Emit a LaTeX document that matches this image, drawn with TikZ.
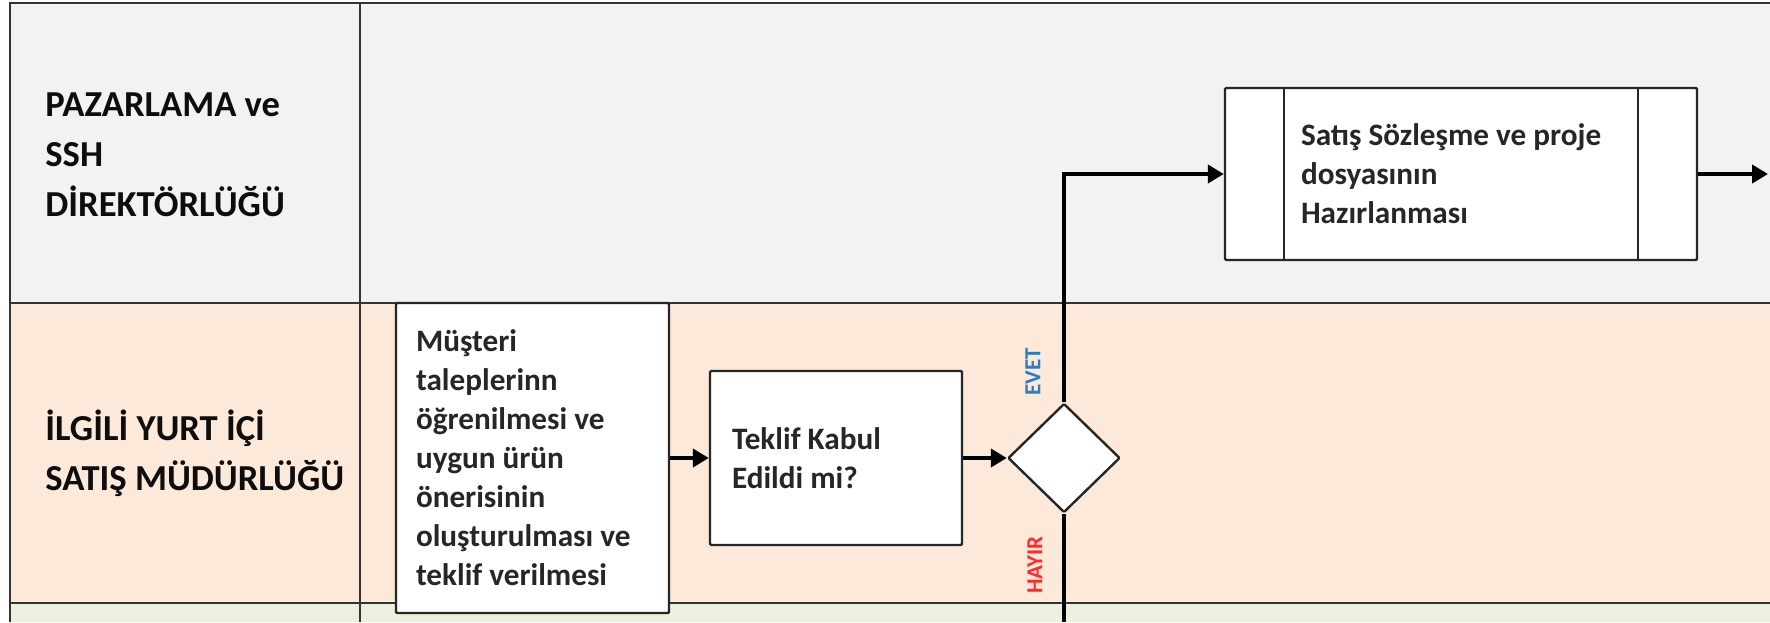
\documentclass[tikz,border=0pt]{standalone}
\usepackage{fontspec}
\setmainfont{Carlito}
\usetikzlibrary{arrows.meta}
\usetikzlibrary{shapes}
\definecolor{grayln}{HTML}{F2F2F2}
\definecolor{peachln}{HTML}{FCE9DA}
\definecolor{greenln}{HTML}{EBF1DE}
\definecolor{evetblue}{HTML}{2E7BC4}
\definecolor{hayirred}{HTML}{FF2A2A}

\begin{document}
\begin{tikzpicture}[x=0.5pt,y=-0.5pt]
\tikzstyle{lanetext}=[anchor=west,align=flush left,inner sep=0,font=\bfseries\fontsize{18.3}{25}\selectfont,text=black!95]
\tikzstyle{task}=[draw=black!85,line width=1.2pt,fill=white,rounded corners=0.6pt,align=flush left,font=\bfseries\fontsize{15.6}{19.5}\selectfont,text=black!85]
\tikzstyle{flow}=[line width=2pt,-{Triangle[length=8pt,width=9pt]}]
\tikzstyle{answer}=[rotate=90,inner sep=0,font=\bfseries\fontsize{11.5}{13}\selectfont]
\useasboundingbox (0,0) rectangle (1770,622);
\fill[grayln] (10,3) rectangle (1770,303);
\fill[peachln] (10,303) rectangle (1770,603);
\fill[greenln] (10,603) rectangle (1770,622);
\draw[black!80,line width=1pt] (1770,3) -- (10,3) -- (10,622) (360,3) -- (360,622)
  (10,303) -- (1770,303) (10,603) -- (1770,603);
\node[lanetext] (pazarlama) at (45,155) {PAZARLAMA ve\\SSH\\DİREKTÖRLÜĞÜ};
\node[lanetext] (yurtici) at (45,453) {İLGİLİ YURT İÇİ\\SATIŞ MÜDÜRLÜĞÜ};
\node[task,text width=116.5pt,inner xsep=10pt,minimum height=155pt] (offer) at (532.5,458)
  {Müşteri\\taleplerinn\\öğrenilmesi ve\\uygun ürün\\önerisinin\\oluşturulması ve\\teklif verilmesi};
\node[task,text width=104pt,inner xsep=11pt,minimum height=87pt] (accept) at (836,458)
  {Teklif Kabul\\Edildi mi?};
\node[task,diamond,inner sep=0,minimum width=56pt,minimum height=54.5pt] (gate) at (1064,458) {};
\node[task,text width=160pt,inner xsep=38pt,minimum height=86pt] (contract) at (1461,174)
  {Satış Sözleşme ve proje\\dosyasının\\Hazırlanması};
\draw[black!85,line width=1.2pt] ([xshift=30pt]contract.north west) -- ([xshift=30pt]contract.south west)
  ([xshift=-30pt]contract.north east) -- ([xshift=-30pt]contract.south east);
\coordinate (exit) at (1768,174);
\coordinate (nobranch) at (1064,622);
\node[answer,text=evetblue] (evet) at (1033,372) {EVET};
\node[answer,text=hayirred] (hayir) at (1035,565) {HAYIR};
\draw[flow] (offer.east) -- (accept.west);
\draw[flow] (accept.east) -- (gate.west);
\draw[flow] (gate.north) |- (contract.west);
\draw[flow] (contract.east) -- (exit);
\draw[line width=2pt] (gate.south) -- (nobranch);
\end{tikzpicture}
\end{document}
